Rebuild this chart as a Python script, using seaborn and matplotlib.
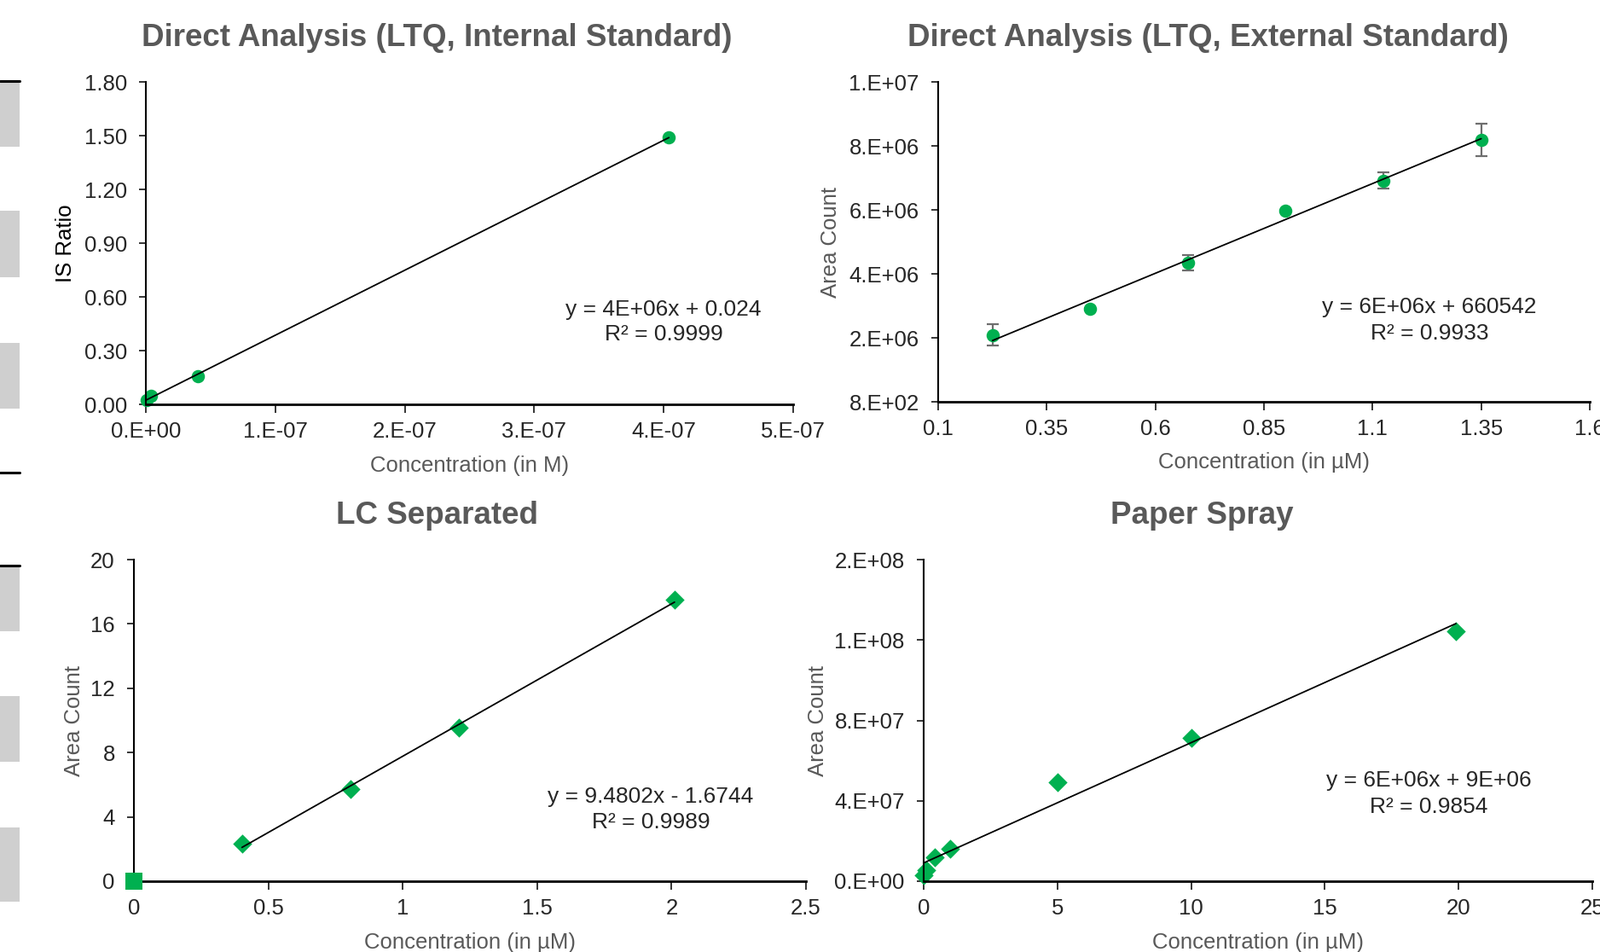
import numpy as np
import seaborn as sns
import matplotlib.pyplot as plt
from matplotlib.patches import Rectangle
from matplotlib.lines import Line2D
from matplotlib.ticker import FuncFormatter

# --- data ---
is_conc = [4e-10, 4e-9, 4.0e-8, 4.04e-7]          # M
is_ratio = [0.026, 0.046, 0.157, 1.49]

ext_conc = [0.225, 0.45, 0.675, 0.9, 1.125, 1.35]  # uM
ext_area = [2.09e6, 2.90e6, 4.35e6, 5.97e6, 6.92e6, 8.19e6]
ext_err = [3.4e5, 4e4, 2.4e5, 4e4, 2.5e5, 5.0e5]

lc_conc = [0.402, 0.807, 1.209, 2.011]
lc_area = [2.35, 5.73, 9.57, 17.50]
lc_blank_conc = [0.0]
lc_blank_area = [0.0]

ps_conc = [0.0, 0.1, 0.4, 1.0, 5.0, 10.0, 19.9]
ps_area = [2.8e6, 5.7e6, 11.7e6, 16.3e6, 49.3e6, 71.4e6, 124.3e6]

titles = ["Direct Analysis (LTQ, Internal Standard)",
          "Direct Analysis (LTQ, External Standard)",
          "LC Separated", "Paper Spray"]
equations = [("y = 4E+06x + 0.024", "R² = 0.9999"),
             ("y = 6E+06x + 660542", "R² = 0.9933"),
             ("y = 9.4802x - 1.6744", "R² = 0.9989"),
             ("y = 6E+06x + 9E+06", "R² = 0.9854")]

GREEN = "#00B050"
GRAY_TXT = "#595959"
W, H = 1876, 1116
FS = 18.5

sns.set_theme(style="white")
plt.rcParams["font.family"] = ["Liberation Sans", "DejaVu Sans"]
plt.rcParams["axes.unicode_minus"] = False

fig = plt.figure(figsize=(W / 100, H / 100), dpi=100)


def px_rect(l, t, r, b):
    return [l / W, 1 - b / H, (r - l) / W, (b - t) / H]


def fig_xy(px, py):
    return px / W, 1 - py / H


sci = FuncFormatter(lambda v, p: format(v, "#.0E"))
plain = FuncFormatter(lambda v, p: f"{v:g}")

ax_tl = fig.add_axes(px_rect(171, 96, 930, 474))
ax_tr = fig.add_axes(px_rect(1100, 96, 1864, 471))
ax_bl = fig.add_axes(px_rect(157, 656, 945, 1033))
ax_br = fig.add_axes(px_rect(1083, 656, 1867, 1033))
axes = [ax_tl, ax_tr, ax_bl, ax_br]

line_kws = dict(color="black", lw=1.3, zorder=3)

# top left: internal standard
sns.scatterplot(x=is_conc, y=is_ratio, ax=ax_tl, color=GREEN, marker="o",
                s=125, linewidth=0, zorder=2, clip_on=False)
sns.regplot(x=is_conc, y=is_ratio, ax=ax_tl, scatter=False, ci=None,
            truncate=True, line_kws=line_kws)
ax_tl.set_xlim(0, 5e-7)
ax_tl.set_ylim(0, 1.8)
ax_tl.set_xticks(np.linspace(0, 5e-7, 6))
ax_tl.set_yticks(np.linspace(0, 1.8, 7))
ax_tl.xaxis.set_major_formatter(sci)
ax_tl.yaxis.set_major_formatter(FuncFormatter(lambda v, p: f"{v:.2f}"))
ax_tl.set_xlabel("Concentration (in M)", color=GRAY_TXT)
ax_tl.set_ylabel("IS Ratio", color="black")

# top right: external standard with error bars
ax_tr.errorbar(ext_conc, ext_area, yerr=ext_err, fmt="none", ecolor="#6e6e6e",
               elinewidth=1.6, capsize=4.8, capthick=1.6, zorder=1)
sns.scatterplot(x=ext_conc, y=ext_area, ax=ax_tr, color=GREEN, marker="o",
                s=125, linewidth=0, zorder=2)
sns.regplot(x=ext_conc, y=ext_area, ax=ax_tr, scatter=False, ci=None,
            truncate=True, line_kws=line_kws)
ax_tr.set_xlim(0.1, 1.6)
ax_tr.set_ylim(800, 800 + 1e7)
ax_tr.set_xticks(np.arange(0.1, 1.61, 0.25))
ax_tr.set_yticks(800 + np.arange(6) * 2e6)
ax_tr.xaxis.set_major_formatter(plain)
ax_tr.yaxis.set_major_formatter(sci)
ax_tr.set_xlabel("Concentration (in µM)", color=GRAY_TXT)
ax_tr.set_ylabel("Area Count", color=GRAY_TXT)

# bottom left: LC separated
sns.scatterplot(x=lc_conc, y=lc_area, ax=ax_bl, color=GREEN, marker="D",
                s=130, linewidth=0, zorder=2)
sns.scatterplot(x=lc_blank_conc, y=lc_blank_area, ax=ax_bl, color=GREEN,
                marker="s", s=200, linewidth=0, zorder=4, clip_on=False)
sns.regplot(x=lc_conc, y=lc_area, ax=ax_bl, scatter=False, ci=None,
            truncate=True, line_kws=line_kws)
ax_bl.set_xlim(0, 2.5)
ax_bl.set_ylim(0, 20)
ax_bl.set_xticks(np.arange(0, 2.51, 0.5))
ax_bl.set_yticks(np.arange(0, 21, 4))
ax_bl.xaxis.set_major_formatter(plain)
ax_bl.yaxis.set_major_formatter(plain)
ax_bl.set_xlabel("Concentration (in µM)", color=GRAY_TXT)
ax_bl.set_ylabel("Area Count", color=GRAY_TXT)

# bottom right: paper spray
sns.scatterplot(x=ps_conc, y=ps_area, ax=ax_br, color=GREEN, marker="D",
                s=130, linewidth=0, zorder=2, clip_on=False)
sns.regplot(x=ps_conc, y=ps_area, ax=ax_br, scatter=False, ci=None,
            truncate=True, line_kws=line_kws)
ax_br.set_xlim(0, 25)
ax_br.set_ylim(0, 1.6e8)
ax_br.set_xticks(np.arange(0, 26, 5))
ax_br.set_yticks(np.arange(5) * 4e7)
ax_br.xaxis.set_major_formatter(plain)
ax_br.yaxis.set_major_formatter(sci)
ax_br.set_xlabel("Concentration (in µM)", color=GRAY_TXT)
ax_br.set_ylabel("Area Count", color=GRAY_TXT)

ylabel_x = [-0.108, -0.149, -0.074, -0.143]
for ax, lx in zip(axes, ylabel_x):
    sns.despine(ax=ax)
    ax.set_facecolor("white")
    ax.spines["left"].set_linewidth(1.5)
    ax.spines["bottom"].set_linewidth(2.0)
    ax.spines["left"].set_color("black")
    ax.spines["bottom"].set_color("black")
    ax.tick_params(axis="y", direction="out", length=6, width=1.1,
                   color="black", labelsize=FS, pad=10, left=True)
    ax.tick_params(axis="x", direction="out", length=7, width=1.1,
                   color="black", labelsize=FS, pad=7.5, bottom=True)
    ax.xaxis.label.set_size(FS)
    ax.yaxis.label.set_size(FS)
    ax.yaxis.set_label_coords(lx, 0.5)
    ax.xaxis.set_label_coords(0.5, -0.158)
    ax.xaxis.label.set_verticalalignment("top")
    ax.grid(False)

# titles
title_pos = [(512, 54), (1416, 54), (512, 614), (1409, 614)]
for t, (tx, ty) in zip(titles, title_pos):
    fig.text(*fig_xy(tx, ty), t, ha="center", va="baseline",
             fontsize=26.5, fontweight="bold", color=GRAY_TXT)

# trendline equations
eq_pos = [(778, 369.6, 399), (1676, 366.8, 397.5),
          (763, 940.5, 971.3), (1675, 922.4, 952.9)]
for (l1, l2), (ex, y1, y2) in zip(equations, eq_pos):
    fig.text(*fig_xy(ex, y1), l1, ha="center", va="baseline", fontsize=FS + 0.5)
    fig.text(*fig_xy(ex, y2), l2, ha="center", va="baseline", fontsize=FS + 0.5)

# slide remnants on the left edge
for top, bot in [(95, 172), (247, 325), (402, 479), (663, 740), (816, 893), (970, 1057)]:
    fig.add_artist(Rectangle(fig_xy(0, bot), 23 / W, (bot - top) / H,
                             transform=fig.transFigure, color="#cfcfcf", lw=0))
for ly in [95, 554, 663]:
    fig.add_artist(Line2D([0, 23 / W], [1 - ly / H] * 2, transform=fig.transFigure,
                          color="black", lw=2.2))

fig.savefig("out.png", dpi=100)
